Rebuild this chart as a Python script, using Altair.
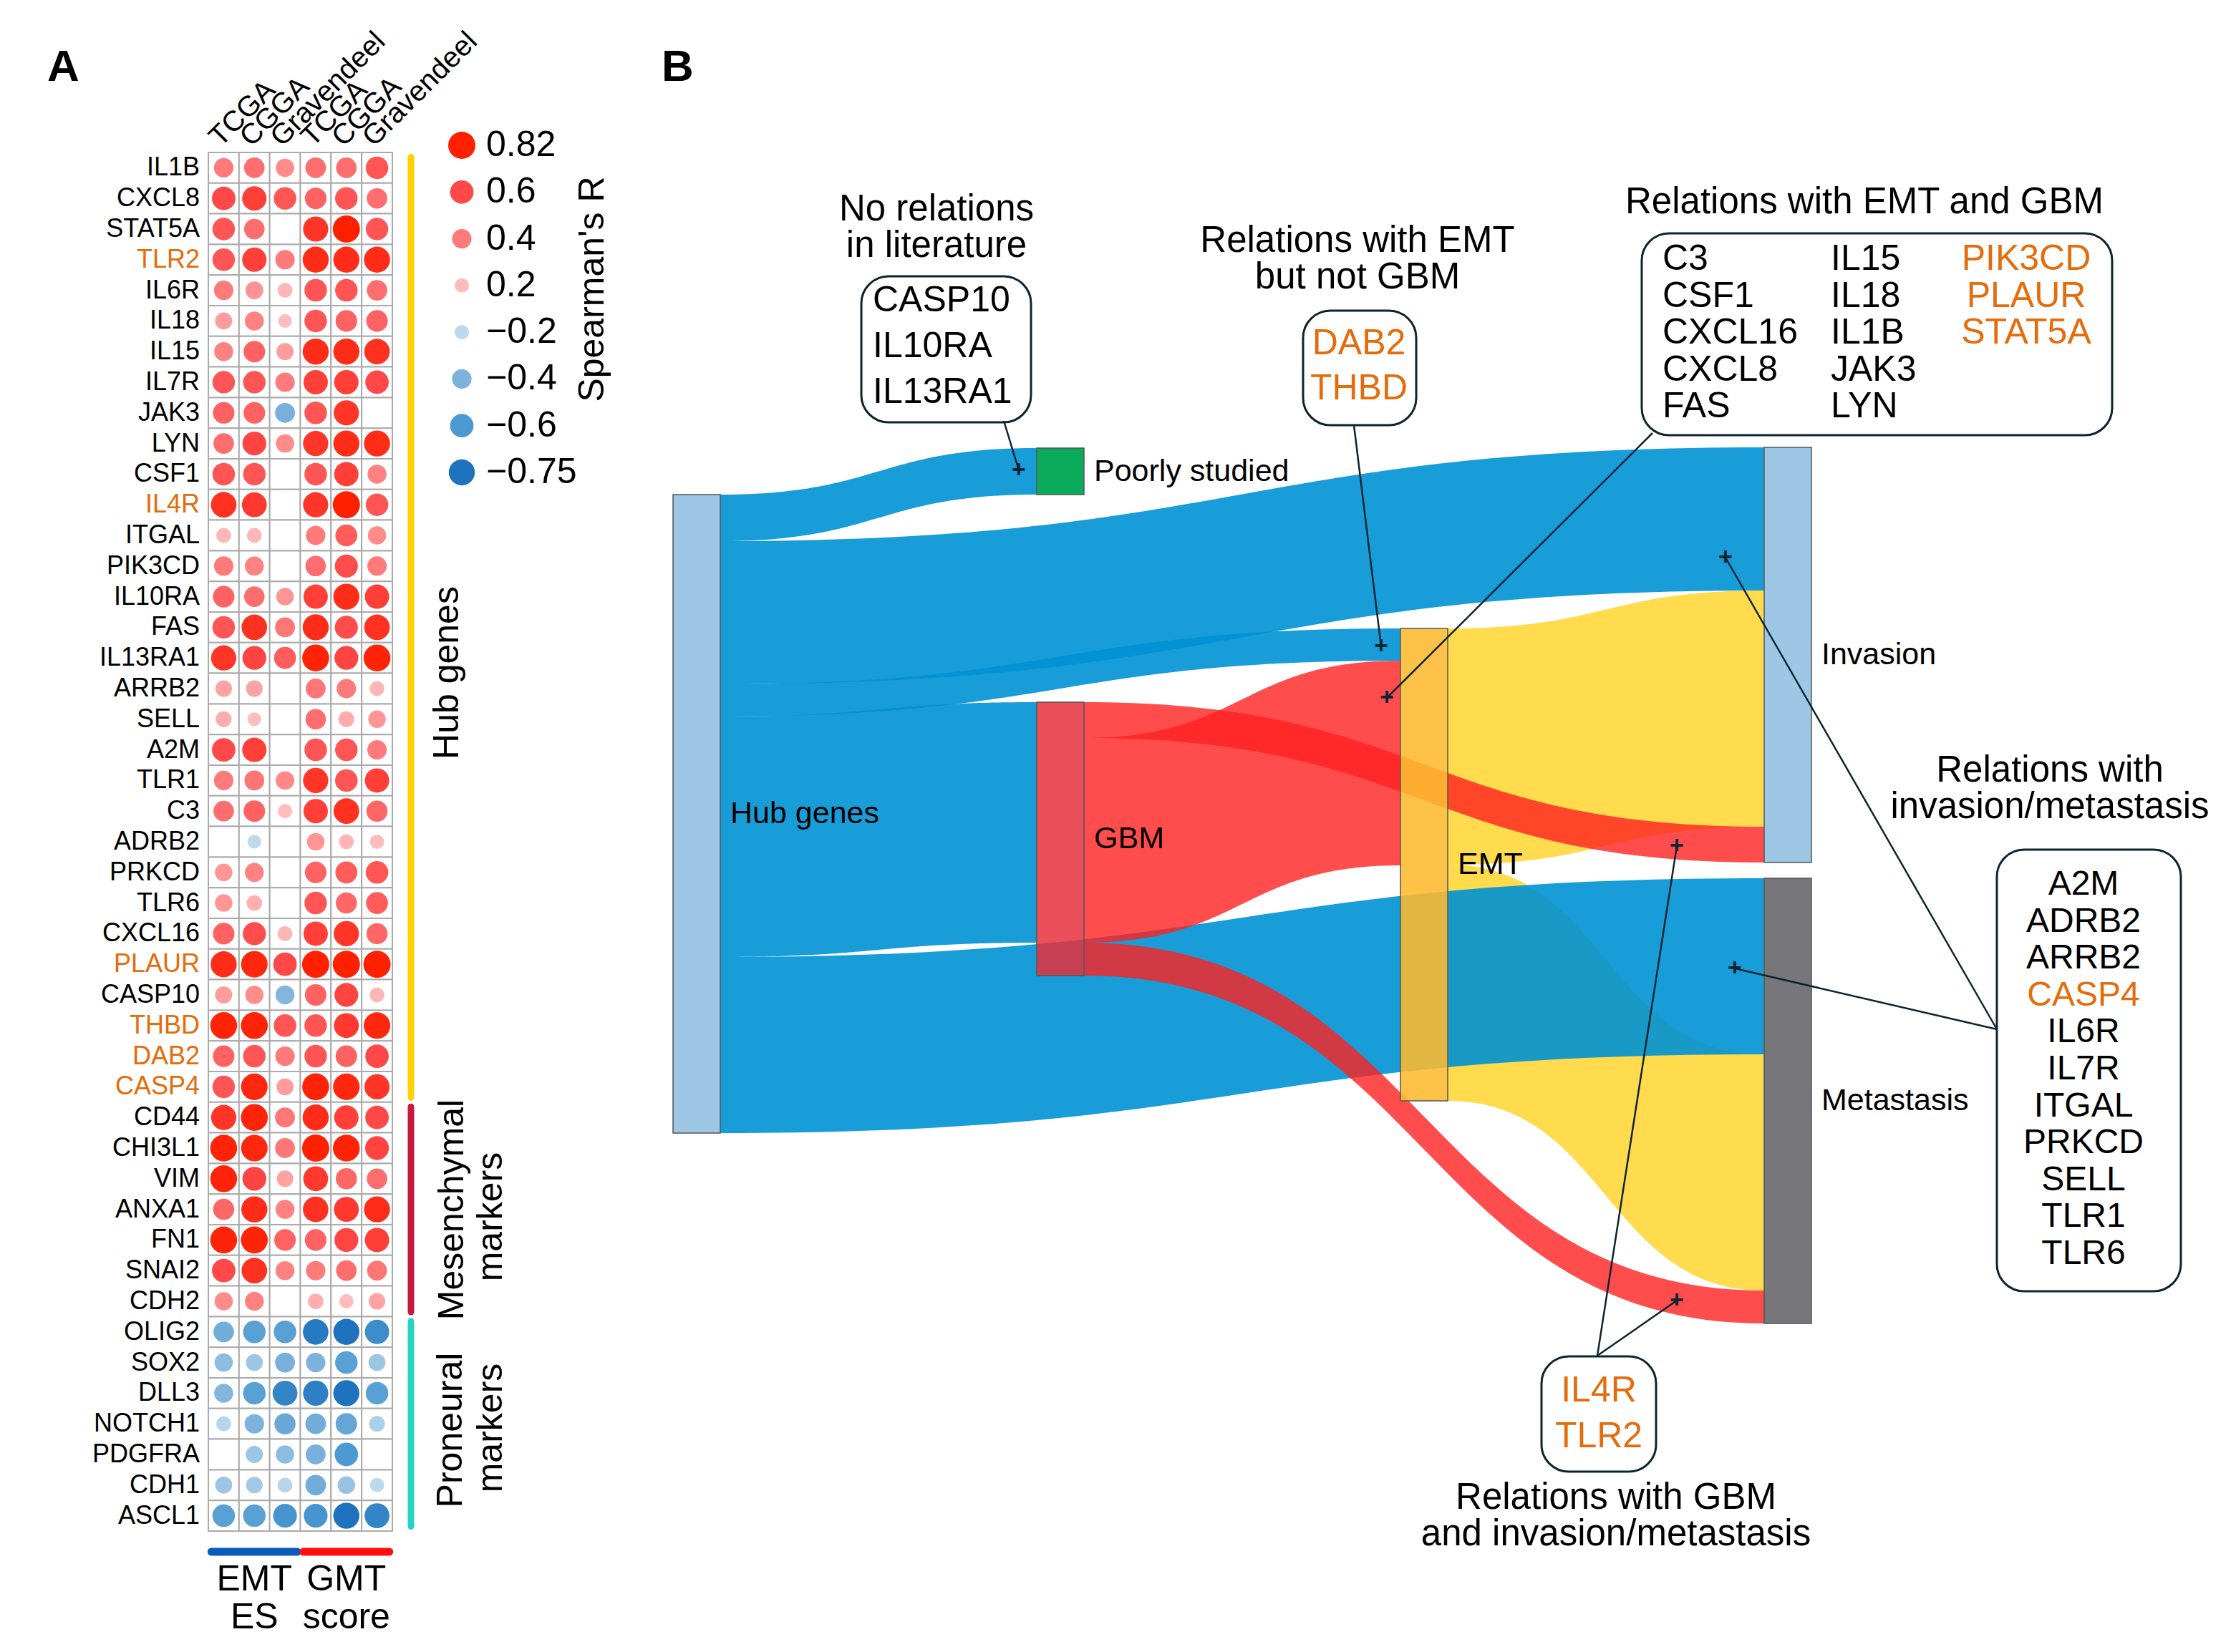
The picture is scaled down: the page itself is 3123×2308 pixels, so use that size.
import altair as alt
import numpy as np
import pandas as pd

FONT = "Liberation Sans"
W, H = 3107, 2292
OFF = 8
ORANGE = "#e46c0a"
INK = "#0d2431"

# ======================= Panel A data =======================
genes = ["IL1B", "CXCL8", "STAT5A", "TLR2", "IL6R", "IL18", "IL15", "IL7R", "JAK3", "LYN",
         "CSF1", "IL4R", "ITGAL", "PIK3CD", "IL10RA", "FAS", "IL13RA1", "ARRB2", "SELL", "A2M",
         "TLR1", "C3", "ADRB2", "PRKCD", "TLR6", "CXCL16", "PLAUR", "CASP10", "THBD", "DAB2",
         "CASP4", "CD44", "CHI3L1", "VIM", "ANXA1", "FN1", "SNAI2", "CDH2", "OLIG2", "SOX2",
         "DLL3", "NOTCH1", "PDGFRA", "CDH1", "ASCL1"]
highlight_genes = ["TLR2", "IL4R", "PLAUR", "THBD", "DAB2", "CASP4"]
box_highlight_genes = ["TLR2", "IL4R", "PLAUR", "THBD", "DAB2", "CASP4", "PIK3CD", "STAT5A"]
column_keys = ["EMT_TCGA", "EMT_CGGA", "EMT_Gravendeel", "GMT_TCGA", "GMT_CGGA", "GMT_Gravendeel"]
column_names = ["TCGA", "CGGA", "Gravendeel", "TCGA", "CGGA", "Gravendeel"]
N = None
emt_tcga = [0.40, 0.60, 0.55, 0.55, 0.40, 0.30, 0.38, 0.55, 0.50, 0.45, 0.55, 0.72, 0.22, 0.40, 0.50,
            0.55, 0.70, 0.28, 0.25, 0.60, 0.40, 0.45, N, 0.32, 0.32, 0.50, 0.75, 0.30, 0.80, 0.50,
            0.55, 0.70, 0.80, 0.80, 0.48, 0.80, 0.60, 0.35, -0.45, -0.35, -0.38, -0.22, N, -0.30, -0.55]
emt_cgga = [0.45, 0.65, 0.45, 0.65, 0.33, 0.38, 0.50, 0.55, 0.50, 0.62, 0.55, 0.68, 0.22, 0.38, 0.45,
            0.72, 0.62, 0.28, 0.18, 0.65, 0.42, 0.50, -0.18, 0.38, 0.24, 0.58, 0.78, 0.35, 0.80, 0.55,
            0.78, 0.80, 0.78, 0.62, 0.75, 0.80, 0.72, 0.38, -0.55, -0.30, -0.55, -0.40, -0.30, -0.28, -0.55]
emt_grav = [0.35, 0.55, N, 0.40, 0.22, 0.18, 0.30, 0.40, -0.42, 0.35, N, N, N, N, 0.32,
            0.42, 0.52, N, N, N, 0.36, 0.20, N, N, N, 0.22, 0.60, -0.38, 0.55, 0.40,
            0.30, 0.42, 0.42, 0.28, 0.38, 0.50, 0.38, N, -0.55, -0.42, -0.68, -0.48, -0.35, -0.22, -0.62]
gmt_tcga = [0.45, 0.50, 0.70, 0.75, 0.55, 0.55, 0.75, 0.65, 0.55, 0.70, 0.55, 0.70, 0.40, 0.45, 0.65,
            0.75, 0.80, 0.42, 0.45, 0.55, 0.70, 0.65, 0.32, 0.50, 0.55, 0.65, 0.82, 0.50, 0.55, 0.55,
            0.80, 0.75, 0.82, 0.68, 0.72, 0.50, 0.40, 0.24, -0.72, -0.40, -0.70, -0.45, -0.42, -0.45, -0.62]
gmt_cgga = [0.45, 0.55, 0.82, 0.75, 0.55, 0.50, 0.75, 0.65, 0.70, 0.75, 0.65, 0.82, 0.52, 0.58, 0.75,
            0.58, 0.62, 0.40, 0.25, 0.55, 0.55, 0.72, 0.22, 0.52, 0.48, 0.70, 0.82, 0.62, 0.68, 0.50,
            0.78, 0.65, 0.80, 0.48, 0.68, 0.62, 0.45, 0.20, -0.75, -0.55, -0.75, -0.50, -0.60, -0.32, -0.75]
gmt_grav = [0.55, 0.45, 0.55, 0.75, 0.45, 0.50, 0.72, 0.60, N, 0.75, 0.38, 0.55, 0.35, 0.40, 0.65,
            0.72, 0.80, 0.22, 0.32, 0.40, 0.65, 0.48, 0.20, 0.55, 0.52, 0.48, 0.82, 0.22, 0.78, 0.60,
            0.70, 0.60, 0.62, 0.45, 0.75, 0.65, 0.42, 0.28, -0.65, -0.30, -0.55, -0.25, N, -0.20, -0.68]

group_names = ["Hub genes", "Mesenchymal markers", "Proneural markers"]
group_first = ["IL1B", "CD44", "OLIG2"]
group_last = ["CASP4", "CDH2", "ASCL1"]
group_colors = ["#ffd200", "#c51b40", "#2ad2c3"]

score_names = [["EMT", "ES"], ["GMT", "score"]]
score_first = [0, 3]
score_last = [2, 5]
score_colors = ["#0a5cba", "#ff1010"]

legend_values = [0.82, 0.6, 0.4, 0.2, -0.2, -0.4, -0.6, -0.75]
legend_labels = ["0.82", "0.6", "0.4", "0.2", "\u22120.2", "\u22120.4", "\u22120.6", "\u22120.75"]

# ======================= Panel B data =======================
sankey_nodes = ["Hub genes", "Poorly studied", "GBM", "EMT", "Invasion", "Metastasis"]
link_source = ["Hub genes"] * 5 + ["GBM"] * 3 + ["EMT"] * 2
link_target = ["Poorly studied", "Invasion", "EMT", "GBM", "Metastasis",
               "Invasion", "EMT", "Metastasis", "Invasion", "Metastasis"]
link_value = [6.5, 20.0, 4.5, 33.6, 24.6, 5.0, 28.6, 4.6, 33.0, 33.0]

box_genes = [
    [["CASP10", "IL10RA", "IL13RA1"]],
    [["DAB2", "THBD"]],
    [["C3", "CSF1", "CXCL16", "CXCL8", "FAS"], ["IL15", "IL18", "IL1B", "JAK3", "LYN"],
     ["PIK3CD", "PLAUR", "STAT5A"]],
    [["A2M", "ADRB2", "ARRB2", "CASP4", "IL6R", "IL7R", "ITGAL", "PRKCD", "SELL", "TLR1", "TLR6"]],
    [["IL4R", "TLR2"]],
]
box_titles = [
    ["No relations", "in literature"],
    ["Relations with EMT", "but not GBM"],
    ["Relations with EMT and GBM"],
    ["Relations with", "invasion/metastasis"],
    ["Relations with GBM", "and invasion/metastasis"],
]

# ======================= layout / style =======================
def pv(v):
    return v - OFF

XS = alt.Scale(domain=[OFF, OFF + W], range=[0, W], zero=False, nice=False)
YS = alt.Scale(domain=[OFF, OFF + H], range=[0, H], zero=False, nice=False)

GRID_X0, GRID_X1 = 291, 548
GRID_Y0, GRID_Y1 = 213, 2139
GX = alt.Scale(type="band", domain=column_keys, range=[pv(GRID_X0), pv(GRID_X1)],
               paddingInner=0, paddingOuter=0)
GY = alt.Scale(type="band", domain=genes, range=[pv(GRID_Y0), pv(GRID_Y1)],
               paddingInner=0, paddingOuter=0)
ROW = alt.Scale(domain=[0, len(genes)], range=[pv(GRID_Y0), pv(GRID_Y1)], zero=False, nice=False)
COLQ = alt.Scale(domain=[0, len(column_keys)], range=[pv(GRID_X0), pv(GRID_X1)], zero=False, nice=False)
SZ = alt.Scale(domain=[0, 0.82], range=[63, 1444])
CS = alt.Scale(domain=[-0.75, -0.6, -0.4, -0.2, 0.2, 0.4, 0.6, 0.82],
               range=["#1e72be", "#4d9ad2", "#7db2dc", "#bcd9ee", "#ffbcbc", "#ff7b7b", "#ff4848", "#ff2000"],
               interpolate="rgb", clamp=True)
LY = alt.Scale(type="point", domain=legend_labels, range=[pv(203), pv(660)], padding=0)

# ---------- panel A frames ----------
series = dict(zip(column_keys, [emt_tcga, emt_cgga, emt_grav, gmt_tcga, gmt_cgga, gmt_grav]))
rows = []
for key in column_keys:
    for gi, g in enumerate(genes):
        rows.append({"gene": g, "col": key, "R": series[key][gi]})
cells = pd.DataFrame(rows)
dots = cells.dropna(subset=["R"]).copy()
dots["R"] = dots["R"].astype(float)
dots["absR"] = dots["R"].abs()

gene_df = pd.DataFrame({"gene": genes,
                        "color": [ORANGE if g in highlight_genes else "black" for g in genes]})
col_df = pd.DataFrame({"col": column_keys, "name": column_names})

grp_df = pd.DataFrame({
    "group": group_names,
    "y0": [genes.index(g) + 0.15 for g in group_first],
    "y1": [genes.index(g) + 0.85 for g in group_last],
    "color": group_colors,
})
grp_label_df = pd.DataFrame({
    "text": ["Hub genes", "Mesenchymal", "markers", "Proneural", "markers"],
    "x": [625, 632, 686, 630, 686],
    "y": [940, 1690, 1700, 1998, 1995],
})
score_df = pd.DataFrame({
    "x0": [s + 0.1 for s in score_first],
    "x1": [e + 0.9 for e in score_last],
    "color": score_colors,
})
score_lab = []
for names, s, e in zip(score_names, score_first, score_last):
    for li, t in enumerate(names):
        score_lab.append({"text": t, "xc": (s + e + 1) / 2, "y": 2207 + li * 53})
score_lab_df = pd.DataFrame(score_lab)

legend_df = pd.DataFrame({"label": legend_labels, "R": legend_values,
                          "absR": [abs(v) for v in legend_values]})

letters_df = pd.DataFrame({"text": ["A", "B"], "x": [66, 924], "y": [113, 113]})

# ---------- panel B: sankey layout computed from the flows ----------
node_column = {"Hub genes": 0, "Poorly studied": 1, "GBM": 1, "EMT": 2, "Invasion": 3, "Metastasis": 3}
column_x = [940, 1448, 1956, 2464]
NODE_W = 66
PX_PER_UNIT = 10
node_top = {"Hub genes": 691, "Poorly studied": 626, "GBM": 981, "EMT": 878,
            "Invasion": 625, "Metastasis": 1227}
incoming_order = {"Invasion": ["Hub genes", "EMT", "GBM"], "Metastasis": ["Hub genes", "EMT", "GBM"],
                  "EMT": ["Hub genes", "GBM"], "GBM": ["Hub genes"], "Poorly studied": ["Hub genes"]}
node_fill = {"Hub genes": "#9dc7e5", "Poorly studied": "#0aab5a", "GBM": "#e8303c",
             "EMT": "#fdb92d", "Invasion": "#9dc7e5", "Metastasis": "#77767b"}
node_op = {"Hub genes": 1.0, "Poorly studied": 1.0, "GBM": 0.85, "EMT": 0.88,
           "Invasion": 1.0, "Metastasis": 1.0}
link_fill = {"Hub genes": "#0092d4", "GBM": "#ff2020", "EMT": "#ffd221"}
link_op = {"Hub genes": 0.9, "GBM": 0.8, "EMT": 0.8}

in_sum = {n: 0.0 for n in sankey_nodes}
out_sum = {n: 0.0 for n in sankey_nodes}
for s, t, v in zip(link_source, link_target, link_value):
    out_sum[s] += v
    in_sum[t] += v
node_h = {n: max(in_sum[n], out_sum[n]) * PX_PER_UNIT for n in sankey_nodes}

nodes_df = pd.DataFrame({
    "node": sankey_nodes,
    "x0": [column_x[node_column[n]] for n in sankey_nodes],
    "x1": [column_x[node_column[n]] + NODE_W for n in sankey_nodes],
    "y0": [node_top[n] for n in sankey_nodes],
    "y1": [node_top[n] + node_h[n] for n in sankey_nodes],
    "fill": [node_fill[n] for n in sankey_nodes],
    "op": [node_op[n] for n in sankey_nodes],
})
nodes_df["lx"] = nodes_df["x1"] + 14
nodes_df["ly"] = (nodes_df["y0"] + nodes_df["y1"]) / 2

out_off = {n: 0.0 for n in sankey_nodes}
in_start = {}
for t, srcs in incoming_order.items():
    acc = 0.0
    for s in srcs:
        for ls, lt, v in zip(link_source, link_target, link_value):
            if ls == s and lt == t:
                in_start[(s, t)] = acc
                acc += v * PX_PER_UNIT

ts = np.linspace(0, 1, 80)
link_rows = []
for i, (s, t, v) in enumerate(zip(link_source, link_target, link_value)):
    h = v * PX_PER_UNIT
    ys0 = node_top[s] + out_off[s]
    out_off[s] += h
    yt0 = node_top[t] + in_start[(s, t)]
    x0 = column_x[node_column[s]] + NODE_W
    x1 = column_x[node_column[t]]
    xc = (x0 + x1) / 2
    bx = x0 * (1 - ts) ** 3 + 3 * xc * (1 - ts) ** 2 * ts + 3 * xc * (1 - ts) * ts ** 2 + x1 * ts ** 3
    ease = 3 * ts ** 2 - 2 * ts ** 3
    top = ys0 + (yt0 - ys0) * ease
    for xx, yy in zip(bx, top):
        link_rows.append({"link": i, "source": s, "x": xx, "y_top": yy, "y_bot": yy + h})
links_df = pd.DataFrame(link_rows)

# ---------- annotation layout ----------
boxes_df = pd.DataFrame({
    "x0": [1203, 1820, 2293, 2789, 2153],
    "x1": [1440, 1978, 2950, 3046, 2313],
    "y0": [386, 434, 326, 1187, 1895],
    "y1": [590, 594, 608, 1804, 2056],
})
col_anchor = [[(1219, "left")], [(1898, "center")],
              [(2322, "left"), (2557, "left"), (2830, "center")],
              [(2910, "center")], [(2233, "center")]]
first_line = [420, 480, 362, 1236, 1943]
line_step = [64, 63, 51.5, 51.6, 64]
gene_size = [50, 50, 50, 48, 50]
txt_rows = []
for b, cols in enumerate(box_genes):
    for c, glist in enumerate(cols):
        ax, al = col_anchor[b][c]
        for li, g in enumerate(glist):
            txt_rows.append({"text": g, "x": ax, "y": first_line[b] + li * line_step[b],
                             "color": ORANGE if g in box_highlight_genes else "black",
                             "fs": gene_size[b], "align": al})
title_x = [1308, 1896, 2604, 2863, 2257]
title_y = [293, 337, 283, 1077, 2093]
for b, lines in enumerate(box_titles):
    for li, t in enumerate(lines):
        txt_rows.append({"text": t, "x": title_x[b], "y": title_y[b] + li * 51,
                         "color": "black", "fs": 51, "align": "center"})
txt_df = pd.DataFrame(txt_rows)

pointer_df = pd.DataFrame({
    "x0": [1402, 1891, 2308, 2789, 2789, 2231, 2231],
    "y0": [588, 594, 605, 1438, 1438, 1894, 1894],
    "x1": [1423, 1929, 1937, 2410, 2423, 2342, 2342],
    "y1": [657, 903, 975, 779, 1353, 1182, 1817],
})

# ======================= layers =======================
noax = dict(axis=None)
layers = []

# grid
layers.append(alt.Chart(cells).mark_rect(fill="white", stroke="#ababab", strokeWidth=2).encode(
    x=alt.X("col:N", scale=GX, **noax), y=alt.Y("gene:N", scale=GY, **noax)))
# dots
layers.append(alt.Chart(dots).mark_circle(opacity=1).encode(
    x=alt.X("col:N", scale=GX, bandPosition=0.5, **noax),
    y=alt.Y("gene:N", scale=GY, bandPosition=0.5, **noax),
    size=alt.Size("absR:Q", scale=SZ, legend=None),
    color=alt.Color("R:Q", scale=CS, legend=None)))
# gene labels
layers.append(alt.Chart(gene_df).mark_text(align="right", baseline="middle", fontSize=36, font=FONT).encode(
    x=alt.value(pv(279)),
    y=alt.Y("gene:N", scale=GY, bandPosition=0.5, **noax),
    text="gene:N", color=alt.Color("color:N", scale=None)))
# column labels
layers.append(alt.Chart(col_df).mark_text(align="left", baseline="middle", angle=315, fontSize=40,
                                          font=FONT, color="black").encode(
    x=alt.X("col:N", scale=GX, bandPosition=0.2, **noax),
    y=alt.value(pv(198)), text="name:N"))
# legend
layers.append(alt.Chart(legend_df).mark_circle(opacity=1).encode(
    x=alt.value(pv(645)), y=alt.Y("label:N", scale=LY, **noax),
    size=alt.Size("absR:Q", scale=SZ, legend=None),
    color=alt.Color("R:Q", scale=CS, legend=None)))
layers.append(alt.Chart(legend_df).mark_text(align="left", baseline="middle", fontSize=50, font=FONT,
                                             color="black").encode(
    x=alt.value(pv(679)), y=alt.Y("label:N", scale=LY, **noax), text="label:N"))
layers.append(alt.Chart(pd.DataFrame({"t": ["Spearman's R"]})).mark_text(
    align="center", baseline="middle", angle=270, fontSize=50, font=FONT, color="black").encode(
    x=alt.value(pv(828)), y=alt.value(pv(404)), text="t:N"))
# group bars + labels
layers.append(alt.Chart(grp_df).mark_rule(strokeWidth=9, strokeCap="round").encode(
    x=alt.value(pv(574)), y=alt.Y("y0:Q", scale=ROW, **noax), y2="y1:Q",
    color=alt.Color("color:N", scale=None)))
layers.append(alt.Chart(grp_label_df).mark_text(align="center", baseline="middle", angle=270,
                                                fontSize=50, font=FONT, color="black").encode(
    x=alt.X("x:Q", scale=XS, **noax), y=alt.Y("y:Q", scale=YS, **noax), text="text:N"))
# score bars + labels
layers.append(alt.Chart(score_df).mark_rule(strokeWidth=11, strokeCap="round").encode(
    x=alt.X("x0:Q", scale=COLQ, **noax), x2="x1:Q", y=alt.value(pv(2168)),
    color=alt.Color("color:N", scale=None)))
layers.append(alt.Chart(score_lab_df).mark_text(align="center", baseline="middle", fontSize=50,
                                                font=FONT, color="black").encode(
    x=alt.X("xc:Q", scale=COLQ, **noax), y=alt.Y("y:Q", scale=YS, **noax), text="text:N"))
# panel letters
layers.append(alt.Chart(letters_df).mark_text(align="left", baseline="alphabetic", fontSize=62,
                                              fontWeight="bold", font=FONT, color="black").encode(
    x=alt.X("x:Q", scale=XS, **noax), y=alt.Y("y:Q", scale=YS, **noax), text="text:N"))

# sankey links (yellow, blue, red order)
for src in ["EMT", "Hub genes", "GBM"]:
    sub = links_df[links_df["source"] == src]
    layers.append(alt.Chart(sub).mark_area(orient="vertical", color=link_fill[src],
                                           opacity=link_op[src], interpolate="linear").encode(
        x=alt.X("x:Q", scale=XS, **noax), y=alt.Y("y_top:Q", scale=YS, **noax), y2="y_bot:Q",
        detail="link:N"))
# nodes
layers.append(alt.Chart(nodes_df).mark_rect(stroke="#555555", strokeWidth=1.5).encode(
    x=alt.X("x0:Q", scale=XS, **noax), x2="x1:Q", y=alt.Y("y0:Q", scale=YS, **noax), y2="y1:Q",
    fill=alt.Fill("fill:N", scale=None), fillOpacity=alt.FillOpacity("op:Q", scale=None)))
layers.append(alt.Chart(nodes_df).mark_text(align="left", baseline="middle", fontSize=43, font=FONT,
                                            color="black").encode(
    x=alt.X("lx:Q", scale=XS, **noax), y=alt.Y("ly:Q", scale=YS, **noax), text="node:N"))
# boxes
layers.append(alt.Chart(boxes_df).mark_rect(fill="white", stroke=INK, strokeWidth=3, cornerRadius=38).encode(
    x=alt.X("x0:Q", scale=XS, **noax), x2="x1:Q", y=alt.Y("y0:Q", scale=YS, **noax), y2="y1:Q"))
for al in ["left", "center"]:
    sub = txt_df[txt_df["align"] == al]
    layers.append(alt.Chart(sub).mark_text(align=al, baseline="middle", font=FONT).encode(
        x=alt.X("x:Q", scale=XS, **noax), y=alt.Y("y:Q", scale=YS, **noax), text="text:N",
        color=alt.Color("color:N", scale=None), size=alt.Size("fs:Q", scale=None)))
# pointers
layers.append(alt.Chart(pointer_df).mark_rule(color=INK, strokeWidth=2.5).encode(
    x=alt.X("x0:Q", scale=XS, **noax), x2="x1:Q", y=alt.Y("y0:Q", scale=YS, **noax), y2="y1:Q"))
layers.append(alt.Chart(pointer_df).mark_text(text="+", fontSize=34, fontWeight="bold", color=INK,
                                              align="center", baseline="middle", font=FONT).encode(
    x=alt.X("x1:Q", scale=XS, **noax), y=alt.Y("y1:Q", scale=YS, **noax)))

chart = alt.layer(*layers).resolve_scale(
    x="independent", y="independent", color="independent", size="independent"
).properties(
    width=W, height=H, autosize=alt.AutoSizeParams(type="none"), padding=0, background="white"
).configure_view(stroke=None)

chart.save("out.html", embed_options={"renderer": "svg", "actions": False})
